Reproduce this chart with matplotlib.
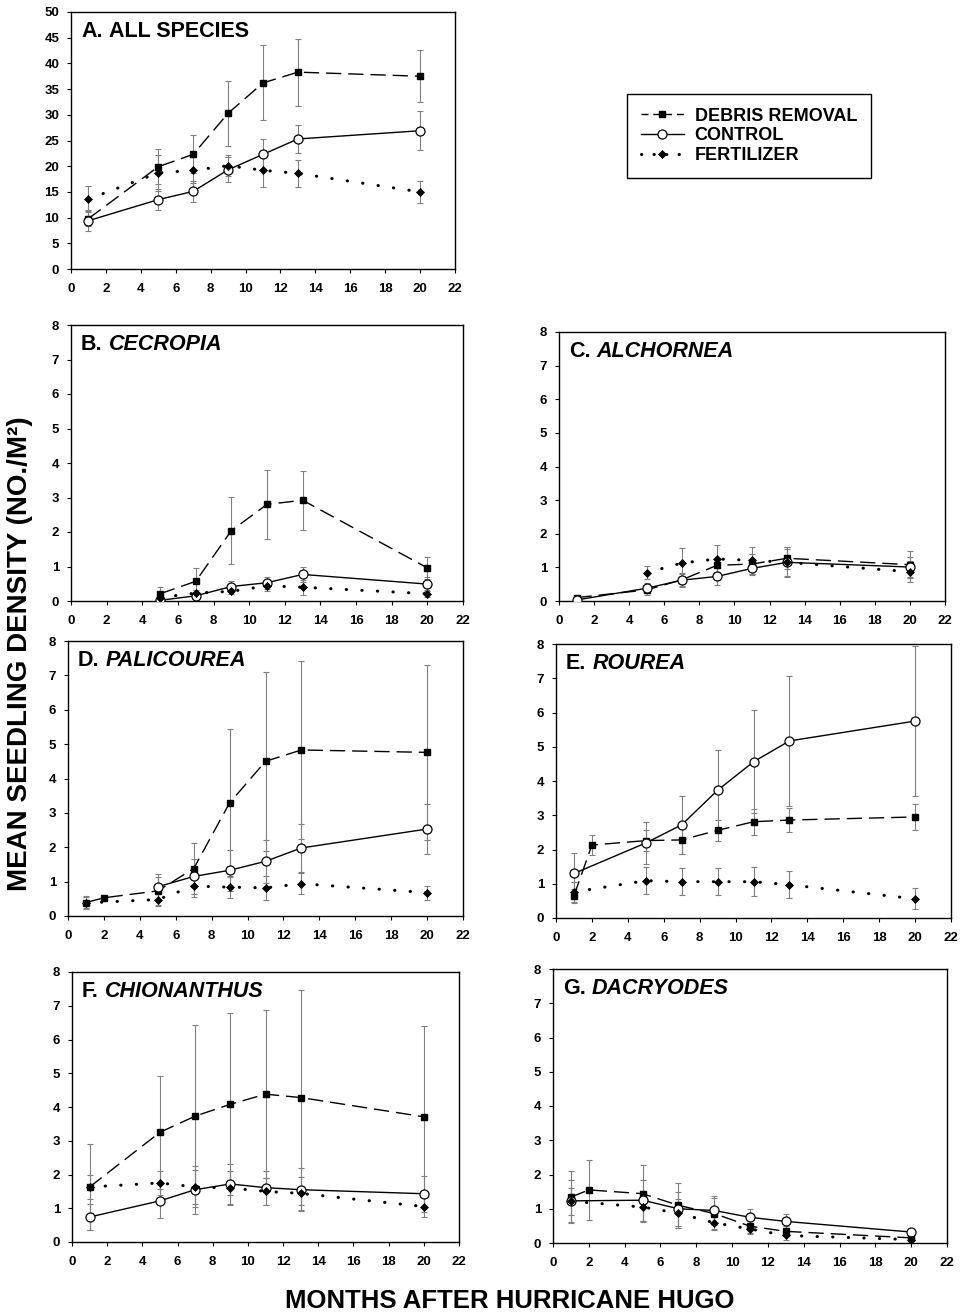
import numpy as np
import matplotlib
matplotlib.use('Agg')
import matplotlib.pyplot as plt
from matplotlib.lines import Line2D

plt.rcParams['font.family'] = 'Liberation Sans'
plt.rcParams['font.weight'] = 'bold'

W, H = 961, 1314

# ---- data ----
months = [1, 5, 7, 9, 11, 13, 20]
months_late = [5, 7, 9, 11, 13, 20]
months_two = [1, 2, 5, 7, 9, 11, 13, 20]

# A. all species
a_debris = [9.8, 19.9, 22.3, 30.3, 36.2, 38.3, 37.5]
a_debris_se = [1.5, 3.4, 3.7, 6.3, 7.3, 6.5, 5.1]
a_control = [9.4, 13.5, 15.1, 19.3, 22.3, 25.3, 26.9]
a_control_se = [2.0, 2.1, 2.1, 2.4, 2.9, 2.8, 3.8]
a_fert = [13.6, 18.7, 19.2, 20.1, 19.2, 18.6, 15.0]
a_fert_se = [2.6, 3.5, 2.5, 2.0, 3.2, 2.6, 2.2]

# B. Cecropia
b_debris = [0.21, 0.57, 2.04, 2.80, 2.92, 0.96]
b_debris_se = [0.2, 0.4, 0.98, 0.99, 0.86, 0.32]
b_control = [0.02, 0.15, 0.42, 0.53, 0.77, 0.49]
b_control_se = [0.02, 0.05, 0.17, 0.17, 0.23, 0.2]
b_fert = [0.10, 0.23, 0.28, 0.44, 0.40, 0.21]
b_fert_se = [0.05, 0.08, 0.08, 0.15, 0.22, 0.1]

# C. Alchornea
c_debris = [0.10, 0.33, 0.63, 1.06, 1.10, 1.27, 1.08]
c_debris_se = [0.05, 0.15, 0.2, 0.2, 0.3, 0.33, 0.4]
c_control = [0.03, 0.38, 0.62, 0.73, 0.97, 1.15, 1.01]
c_control_se = [0.03, 0.15, 0.17, 0.26, 0.2, 0.45, 0.3]
c_fert = [0.84, 1.13, 1.25, 1.21, 1.15, 0.87]
c_fert_se = [0.2, 0.45, 0.42, 0.41, 0.4, 0.31]

# D. Palicourea
d_debris = [0.39, 0.53, 0.73, 1.38, 3.29, 4.50, 4.83, 4.76]
d_debris_se = [0.15, 0.05, 0.4, 0.73, 2.16, 2.6, 2.6, 2.55]
d_control = [0.85, 1.15, 1.33, 1.59, 1.98, 2.53]
d_control_se = [0.37, 0.5, 0.6, 0.62, 0.7, 0.72]
d_fert = [0.38, 0.48, 0.87, 0.84, 0.82, 0.94, 0.68]
d_fert_se = [0.19, 0.19, 0.31, 0.33, 0.34, 0.31, 0.2]

# E. Rourea
e_debris = [0.65, 2.13, 2.26, 2.28, 2.56, 2.81, 2.86, 2.95]
e_debris_se = [0.2, 0.29, 0.3, 0.41, 0.3, 0.38, 0.36, 0.38]
e_control = [1.30, 2.19, 2.72, 3.73, 4.56, 5.17, 5.75]
e_control_se = [0.59, 0.62, 0.85, 1.18, 1.5, 1.9, 2.2]
e_fert = [0.76, 1.09, 1.06, 1.06, 1.06, 0.97, 0.56]
e_fert_se = [0.3, 0.4, 0.4, 0.4, 0.43, 0.4, 0.31]

# F. Chionanthus
f_debris = [1.63, 3.25, 3.73, 4.08, 4.38, 4.28, 3.71]
f_debris_se = [1.26, 1.67, 2.69, 2.7, 2.49, 3.18, 2.68]
f_control = [0.74, 1.22, 1.55, 1.72, 1.61, 1.55, 1.43]
f_control_se = [0.39, 0.51, 0.71, 0.59, 0.5, 0.63, 0.54]
f_fert = [1.63, 1.75, 1.63, 1.60, 1.50, 1.44, 1.05]
f_fert_se = [0.37, 0.36, 0.5, 0.49, 0.39, 0.5, 0.3]

# G. Dacryodes
g_debris = [1.34, 1.55, 1.44, 1.10, 0.86, 0.49, 0.34, 0.15]
g_debris_se = [0.75, 0.88, 0.84, 0.66, 0.45, 0.2, 0.15, 0.1]
g_control = [1.23, 1.25, 1.00, 0.95, 0.75, 0.63, 0.32]
g_control_se = [0.62, 0.6, 0.5, 0.42, 0.24, 0.23, 0.07]
g_fert = [1.22, 1.05, 0.87, 0.59, 0.41, 0.22, 0.10]
g_fert_se = [0.4, 0.42, 0.42, 0.22, 0.15, 0.12, 0.05]

labels = ['DEBRIS REMOVAL', 'CONTROL', 'FERTILIZER']

# line / marker styles for the three treatments
debris_style = dict(color='black', lw=1.0, dashes=(11, 5), marker='s', ms=5,
                    mfc='black', mec='black')
control_style = dict(color='black', lw=1.0, ls='-', marker='o', ms=6.5,
                     mfc='white', mec='black', mew=0.9)
fert_style = dict(color='black', lw=2.2, dashes=(0.1, 5), dash_capstyle='round',
                  marker='D', ms=4.5, mfc='black', mec='black', mew=0.5)


def rect(l, r, t, b):
    return [l / W, 1 - b / H, (r - l) / W, (b - t) / H]


def draw_series(ax, x, y, se, style):
    ax.errorbar(x, y, yerr=se, fmt='none', ecolor='#808080', elinewidth=0.8,
                capsize=2.5, capthick=0.8, zorder=1)
    ax.plot(x, y, zorder=3, **style)


def setup_axis(ax, ymax, ystep, letter, name, box_px):
    ax.set_xlim(0, 22)
    ax.set_ylim(0, ymax)
    ax.set_xticks(np.arange(0, 23, 2))
    ax.set_yticks(np.arange(0, ymax + 0.1, ystep))
    ax.tick_params(direction='out', length=3, width=0.8, labelsize=9.5)
    ax.tick_params(axis='x', pad=7)
    ax.tick_params(axis='y', pad=5.5)
    for sp in ax.spines.values():
        sp.set_linewidth(1.0)
        sp.set_color('black')
    w_px, h_px = box_px
    t1 = ax.text(10 / w_px, 1 - 9 / h_px, letter, transform=ax.transAxes,
                 fontsize=15.5, fontweight='bold', ha='left', va='top')
    ax.annotate(name, xy=(1, 0), xycoords=t1, xytext=(4.3, 0),
                textcoords='offset points', fontsize=15.5, fontweight='bold',
                style='italic' if letter != 'A.' else 'normal',
                ha='left', va='bottom')


fig = plt.figure(figsize=(W / 100, H / 100), dpi=100)

panels = [
    ((71, 455, 12, 269), 50, 5, 'A.', 'ALL SPECIES',
     [(months, a_debris, a_debris_se), (months, a_control, a_control_se),
      (months, a_fert, a_fert_se)]),
    ((71, 463, 325, 601), 8, 1, 'B.', 'CECROPIA',
     [(months_late, b_debris, b_debris_se), (months_late, b_control, b_control_se),
      (months_late, b_fert, b_fert_se)]),
    ((559, 945, 332, 601), 8, 1, 'C.', 'ALCHORNEA',
     [(months, c_debris, c_debris_se), (months, c_control, c_control_se),
      (months_late, c_fert, c_fert_se)]),
    ((68, 463, 641, 916), 8, 1, 'D.', 'PALICOUREA',
     [(months_two, d_debris, d_debris_se), (months_late, d_control, d_control_se),
      (months, d_fert, d_fert_se)]),
    ((556, 951, 644, 918), 8, 1, 'E.', 'ROUREA',
     [(months_two, e_debris, e_debris_se), (months, e_control, e_control_se),
      (months, e_fert, e_fert_se)]),
    ((72, 459, 972, 1242), 8, 1, 'F.', 'CHIONANTHUS',
     [(months, f_debris, f_debris_se), (months, f_control, f_control_se),
      (months, f_fert, f_fert_se)]),
    ((553, 947, 969, 1243), 8, 1, 'G.', 'DACRYODES',
     [(months_two, g_debris, g_debris_se), (months, g_control, g_control_se),
      (months, g_fert, g_fert_se)]),
]

styles = [debris_style, control_style, fert_style]

for box, ymax, ystep, letter, name, series in panels:
    l, r, t, b = box
    ax = fig.add_axes(rect(l, r, t, b))
    for (x, y, se), st in zip(series, styles):
        draw_series(ax, x, y, se, st)
    setup_axis(ax, ymax, ystep, letter, name, (r - l, b - t))

# legend (short dashes so the pattern shows in the small handle)
legend_styles = [dict(debris_style, dashes=(5, 3.5)), control_style,
                 dict(fert_style, dashes=(0.1, 4))]
handles = [Line2D([], [], **st) for st in legend_styles]
leg = fig.legend(handles, labels, loc='upper left',
                 bbox_to_anchor=(627 / W, 1 - 94 / H), fontsize=13,
                 frameon=True, fancybox=False, edgecolor='black', framealpha=1,
                 handlelength=2.4, handletextpad=0.6, labelspacing=0.16,
                 borderpad=0.75, borderaxespad=0)
leg.get_frame().set_linewidth(1.0)

fig.text(20 / W, 1 - 654 / H, 'MEAN SEEDLING DENSITY (NO./M²)', rotation=90,
         fontsize=20, fontweight='bold', ha='center', va='center')
fig.text(510 / W, 1 - 1301 / H, 'MONTHS AFTER HURRICANE HUGO',
         fontsize=18.5, fontweight='bold', ha='center', va='center')

fig.savefig('out.png', dpi=100)
